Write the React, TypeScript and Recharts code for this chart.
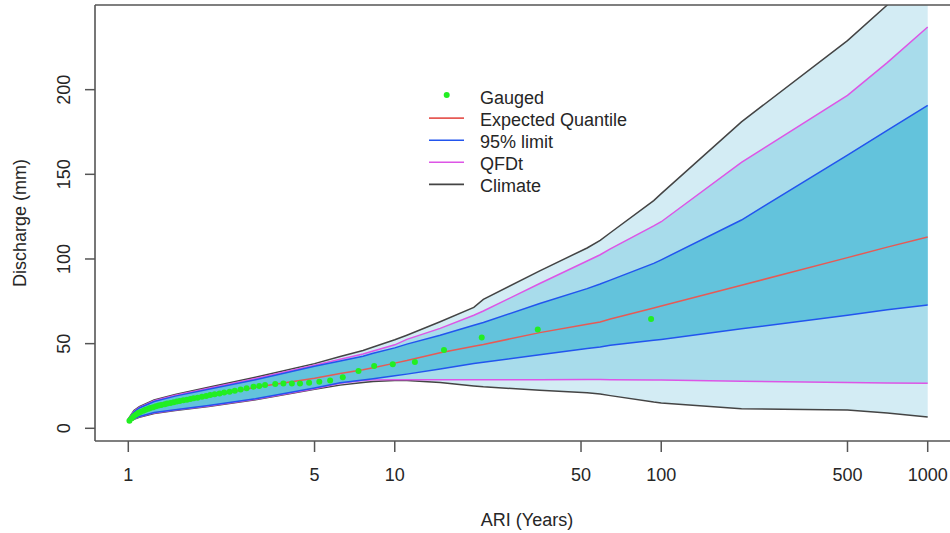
import React from 'react';
import {
  ComposedChart,
  Area,
  Line,
  Scatter,
  XAxis,
  YAxis,
  Legend,
  ReferenceLine,
} from 'recharts';

// ---- Data ----
const ARI = [1, 1.05, 1.1, 1.25, 1.5, 2, 3, 5, 6.24, 7.6, 8.3, 10, 11.1, 14.8, 19.8, 21.5, 35, 52.7, 59, 64.4, 93.7, 100, 200, 500, 705, 1000];
const climateLower = [3.5, 5.3, 6.5, 8.8, 10.5, 12.8, 16.8, 23.0, 25.5, 27.0, 27.6, 28.3, 28.2, 27.1, 25.0, 24.5, 22.5, 21.0, 20.3, 19.3, 15.5, 15.0, 11.5, 10.8, 9.0, 6.7];
const qfdtLower = [3.7, 5.6, 6.8, 9.1, 10.8, 13.2, 17.2, 23.4, 26.6, 28.2, 28.6, 28.7, 28.7, 28.7, 28.7, 28.7, 28.7, 28.8, 28.8, 28.7, 28.5, 28.5, 27.8, 27.0, 26.8, 26.6];
const limit95Lower = [3.9, 5.8, 7.0, 9.3, 11.0, 13.4, 17.4, 23.8, 26.9, 28.5, 29.3, 31.0, 32.0, 35.0, 38.3, 39.0, 43.5, 47.2, 48.0, 49.1, 52.0, 52.5, 58.8, 66.7, 70.0, 72.8];
const expectedQuantile = [4.5, 7.0, 8.8, 11.8, 15.0, 18.6, 24.2, 29.5, 32.4, 34.6, 35.8, 38.5, 40.0, 44.6, 48.5, 49.5, 56.5, 61.5, 62.8, 64.5, 71.0, 72.2, 84.5, 100.8, 107.0, 113.0];
const limit95Upper = [5.1, 9.6, 12.0, 15.8, 19.0, 23.0, 28.7, 36.6, 39.8, 42.6, 44.3, 47.5, 49.7, 55.0, 60.9, 62.5, 73.7, 82.5, 85.2, 87.5, 97.4, 99.5, 123.0, 161.4, 176.0, 190.7];
const qfdtUpper = [5.3, 10.0, 12.4, 16.3, 19.5, 23.6, 29.4, 37.2, 40.8, 43.9, 45.6, 49.3, 52.5, 59.0, 66.8, 69.3, 85.5, 98.8, 102.5, 106.0, 119.5, 122.0, 157.0, 196.6, 216.0, 237.0];
const climateUpper = [5.5, 10.5, 12.8, 16.8, 20.0, 24.2, 30.1, 38.2, 42.4, 46.0, 48.0, 52.3, 55.0, 62.9, 71.4, 76.1, 93.0, 106.5, 111.0, 115.5, 134.5, 138.6, 181.0, 229.0, 250.0, 271.0];

const gaugedAri = [1.01, 1.03, 1.05, 1.07, 1.09, 1.11, 1.14, 1.16, 1.19, 1.21, 1.24, 1.27, 1.3, 1.33, 1.37, 1.4, 1.44, 1.48, 1.52, 1.56, 1.61, 1.66, 1.71, 1.76, 1.82, 1.89, 1.96, 2.03, 2.11, 2.2, 2.29, 2.4, 2.51, 2.64, 2.78, 2.95, 3.1, 3.26, 3.56, 3.82, 4.11, 4.41, 4.77, 5.21, 5.72, 6.38, 7.31, 8.37, 9.83, 11.9, 15.3, 21.2, 34.4, 91.6];
const gaugedQ = [4.5, 6.0, 7.2, 8.2, 9.0, 9.7, 10.4, 11.0, 11.5, 12.0, 12.5, 13.0, 13.4, 13.8, 14.2, 14.6, 15.0, 15.4, 15.8, 16.1, 16.5, 16.9, 17.3, 17.7, 18.1, 18.6, 19.1, 19.6, 20.1, 20.6, 21.1, 21.6, 22.2, 22.9, 23.6, 24.6, 25.0, 25.5, 26.1, 26.5, 26.5, 26.5, 26.9, 27.5, 28.3, 30.1, 33.8, 36.8, 37.9, 39.1, 46.2, 53.7, 58.4, 64.5];

const xTicks = [1, 5, 10, 50, 100, 500, 1000];
const yTicks = [0, 50, 100, 150, 200];

const legendLabels = ['Gauged', 'Expected Quantile', '95% limit', 'QFDt', 'Climate'];

// ---- Styles ----
const FONT = '"Liberation Sans", Arial, sans-serif';
const TEXT = '#262626';
const AXIS = '#555555';
const C_GREEN = '#22ee22';
const C_RED = '#e65a55';
const C_BLUE = '#2255ee';
const C_MAGENTA = '#dd55e6';
const C_BLACK = '#444444';
const F_OUTER = '#d3ecf4';
const F_MID = '#a8dceb';
const F_INNER = '#63c3dc';

const tableData = ARI.map((a, i) => ({
  ari: a,
  climBand: [climateLower[i], climateUpper[i]],
  qfdtBand: [qfdtLower[i], qfdtUpper[i]],
  limitBand: [limit95Lower[i], limit95Upper[i]],
  climLo: climateLower[i],
  climHi: climateUpper[i],
  qLo: qfdtLower[i],
  qHi: qfdtUpper[i],
  lLo: limit95Lower[i],
  lHi: limit95Upper[i],
  exp: expectedQuantile[i],
}));

const gaugedData = gaugedAri.map((a, i) => ({ ari: a, q: gaugedQ[i] }));

const legendColors = [C_GREEN, C_RED, C_BLUE, C_MAGENTA, C_BLACK];

const LegendBox = () => (
  <svg width={260} height={130} style={{ display: 'block' }}>
    {legendLabels.map((lab, i) => {
      const base = 23.5 + 22.1 * i;
      const sy = base - 7.5;
      return (
        <g key={lab}>
          {i === 0 ? (
            <circle cx={46.7} cy={sy - 1} r={3} fill={C_GREEN} />
          ) : (
            <line x1={29} y1={sy} x2={64} y2={sy} stroke={legendColors[i]} strokeWidth={1.6} />
          )}
          <text x={80} y={base} fontSize={18} fontFamily={FONT} fill={TEXT}>
            {lab}
          </text>
        </g>
      );
    })}
  </svg>
);

const YTick = (props: any) => {
  const { x, y, payload } = props;
  const tx = x - 13;
  return (
    <text
      x={tx}
      y={y}
      transform={`rotate(-90 ${tx} ${y})`}
      textAnchor="middle"
      fontSize={18}
      fontFamily={FONT}
      fill={TEXT}
    >
      {payload.value}
    </text>
  );
};

const XTick = (props: any) => {
  const { x, y, payload } = props;
  return (
    <text x={x} y={y + 27} textAnchor="middle" fontSize={18} fontFamily={FONT} fill={TEXT}>
      {payload.value}
    </text>
  );
};

const GaugedDot = (props: any) => {
  const { cx, cy } = props;
  if (cx == null || cy == null) return null;
  return <circle cx={cx} cy={cy} r={3} fill={C_GREEN} />;
};

export default function App() {
  return (
    <div
      style={{
        position: 'fixed',
        left: 0,
        top: 0,
        width: 950,
        height: 533,
        overflow: 'hidden',
        background: '#ffffff',
      }}
    >
      <ComposedChart
        width={962}
        height={533}
        data={tableData}
        margin={{ top: 5, right: 1, bottom: 0, left: 0 }}
      >
        <XAxis
          dataKey="ari"
          type="number"
          scale="log"
          domain={[0.75, 1333.33]}
          allowDataOverflow
          ticks={xTicks}
          interval={0}
          height={92}
          tickSize={11}
          tickLine={{ stroke: AXIS, strokeWidth: 1.5 }}
          axisLine={{ stroke: AXIS, strokeWidth: 1.6 }}
          tick={<XTick />}
          label={(p: any) => {
            const vb = p.viewBox || { x: 95, y: 441, width: 866, height: 92 };
            return (
              <text
                x={vb.x + vb.width / 2 - 1}
                y={vb.y + 85}
                textAnchor="middle"
                fontSize={18}
                fontFamily={FONT}
                fill={TEXT}
              >
                ARI (Years)
              </text>
            );
          }}
        />
        <YAxis
          type="number"
          domain={[-7.5, 250]}
          allowDataOverflow
          ticks={yTicks}
          interval={0}
          width={95}
          tickSize={10}
          tickLine={{ stroke: AXIS, strokeWidth: 1.5 }}
          axisLine={{ stroke: AXIS, strokeWidth: 1.6 }}
          tick={<YTick />}
          label={(p: any) => {
            const vb = p.viewBox || { x: 0, y: 5, width: 95, height: 436 };
            const lx = vb.x + 26;
            const ly = vb.y + vb.height / 2;
            return (
              <text
                x={lx}
                y={ly}
                transform={`rotate(-90 ${lx} ${ly})`}
                textAnchor="middle"
                fontSize={18}
                fontFamily={FONT}
                fill={TEXT}
              >
                Discharge (mm)
              </text>
            );
          }}
        />
        <Area dataKey="climBand" type="linear" stroke="none" fill={F_OUTER} fillOpacity={1} isAnimationActive={false} />
        <Area dataKey="qfdtBand" type="linear" stroke="none" fill={F_MID} fillOpacity={1} isAnimationActive={false} />
        <Area dataKey="limitBand" type="linear" stroke="none" fill={F_INNER} fillOpacity={1} isAnimationActive={false} />
        <Line dataKey="climLo" type="linear" stroke={C_BLACK} strokeWidth={1.5} dot={false} isAnimationActive={false} />
        <Line dataKey="climHi" type="linear" stroke={C_BLACK} strokeWidth={1.5} dot={false} isAnimationActive={false} />
        <Line dataKey="qLo" type="linear" stroke={C_MAGENTA} strokeWidth={1.5} dot={false} isAnimationActive={false} />
        <Line dataKey="qHi" type="linear" stroke={C_MAGENTA} strokeWidth={1.5} dot={false} isAnimationActive={false} />
        <Line dataKey="lLo" type="linear" stroke={C_BLUE} strokeWidth={1.5} dot={false} isAnimationActive={false} />
        <Line dataKey="lHi" type="linear" stroke={C_BLUE} strokeWidth={1.5} dot={false} isAnimationActive={false} />
        <Line dataKey="exp" type="linear" stroke={C_RED} strokeWidth={1.5} dot={false} isAnimationActive={false} />
        <Scatter data={gaugedData} dataKey="q" fill={C_GREEN} shape={<GaugedDot />} isAnimationActive={false} />
        <ReferenceLine y={250} stroke={AXIS} strokeWidth={1.6} ifOverflow="visible" />
        <Legend
          layout="vertical"
          align="center"
          verticalAlign="middle"
          content={<LegendBox />}
          wrapperStyle={{ left: 400, top: 80, width: 260, height: 130 }}
        />
      </ComposedChart>
    </div>
  );
}
